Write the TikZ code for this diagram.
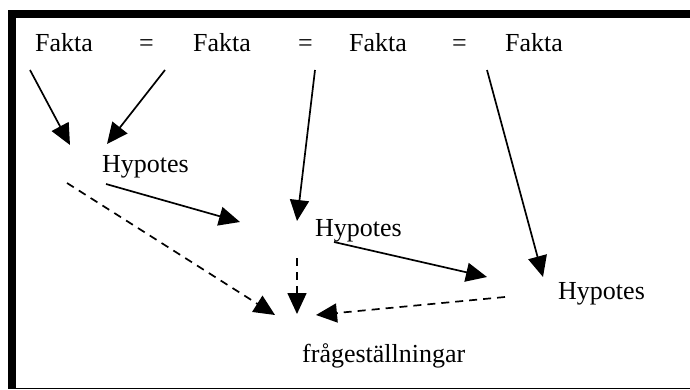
\documentclass[tikz,border=0pt]{standalone}
\usepackage{fontspec}
\setmainfont{Liberation Serif}
\usetikzlibrary{arrows.meta}
\begin{document}
\begin{tikzpicture}[x=1pt,y=-1pt,
  lbl/.style={anchor=base west,inner sep=0pt,font=\fontsize{26}{30}\selectfont},
  solidarrow/.style={line width=1.7pt,-{Triangle[length=21pt,width=19pt]}},
  dasharrow/.style={solidarrow,dash pattern=on 8pt off 6pt}]
\useasboundingbox (0,0) rectangle (690,390);
% frame: heavy top and left edges, thin bottom edge
\fill (8,10) rectangle (690,18);
\fill (8,10) rectangle (16,389);
\draw[line width=1.2pt] (16,388.4) -- (690,388.4);
% top row of facts
\node[lbl] (f1) at (35,52) {Fakta};
\node[lbl] (e1) at (139,52) {=};
\node[lbl] (f2) at (193,52) {Fakta};
\node[lbl] (e2) at (298,52) {=};
\node[lbl] (f3) at (349,52) {Fakta};
\node[lbl] (e3) at (452,52) {=};
\node[lbl] (f4) at (505,52) {Fakta};
% hypotheses and result
\node[lbl] (h1) at (102,173) {Hypotes};
\node[lbl] (h2) at (315,236) {Hypotes};
\node[lbl] (h3) at (558,299) {Hypotes};
\node[lbl] (fr) at (302,362) {frågeställningar};
% arrow end points
\coordinate (a1s) at (30,70);   \coordinate (a1e) at (70,145);
\coordinate (a2s) at (165,70);  \coordinate (a2e) at (107,144);
\coordinate (a3s) at (106,184); \coordinate (a3e) at (240,222);
\coordinate (a4s) at (315,70);  \coordinate (a4e) at (297,221);
\coordinate (a5s) at (334,242); \coordinate (a5e) at (487,277);
\coordinate (a6s) at (487,70);  \coordinate (a6e) at (543,277);
\coordinate (d1s) at (67,183);  \coordinate (d1e) at (275,315);
\coordinate (d2s) at (297,258); \coordinate (d2e) at (297,314);
\coordinate (d3s) at (505,297); \coordinate (d3e) at (316,315);
% solid arrows
\draw[solidarrow] (a1s) -- (a1e);
\draw[solidarrow] (a2s) -- (a2e);
\draw[solidarrow] (a3s) -- (a3e);
\draw[solidarrow] (a4s) -- (a4e);
\draw[solidarrow] (a5s) -- (a5e);
\draw[solidarrow] (a6s) -- (a6e);
% dashed arrows
\draw[dasharrow] (d1s) -- (d1e);
\draw[dasharrow] (d2s) -- (d2e);
\draw[dasharrow] (d3s) -- (d3e);
\end{tikzpicture}
\end{document}
